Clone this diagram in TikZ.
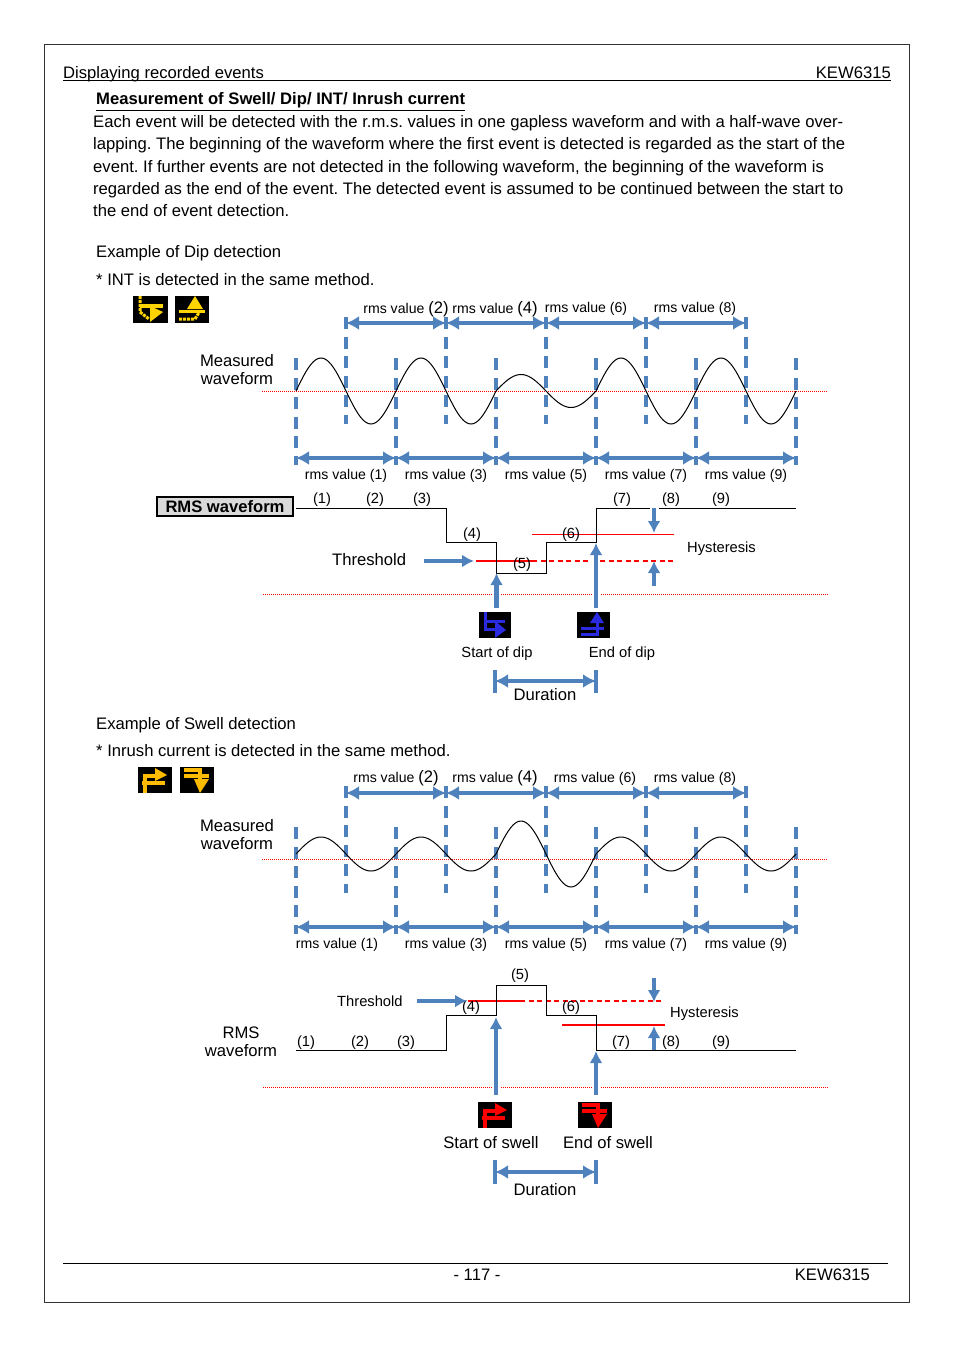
\documentclass[tikz,border=0pt]{standalone}
\usepackage{fontspec}
\setmainfont{Liberation Sans}
\usepackage{xcolor}
\usetikzlibrary{arrows.meta}
\frenchspacing
\definecolor{arrowblue}{HTML}{4F81BD}
\definecolor{iconyellow}{HTML}{FFD400}
\definecolor{iconorange}{HTML}{FFBB00}
\definecolor{iconblue}{HTML}{2A2AE0}
\tikzset{
 bodytxt/.style={anchor=base west,inner sep=0pt,font=\fontsize{16.64}{20}\selectfont},
 bodymid/.style={anchor=base,inner sep=0pt,font=\fontsize{16.64}{20}\selectfont},
 smalltxt/.style={anchor=base,inner sep=0pt,font=\fontsize{14.7}{18}\selectfont},
 rmstxt/.style={anchor=base,inner sep=0pt,font=\fontsize{14.1}{18}\selectfont},
 dimarrow/.style={draw=arrowblue,line width=4pt,{Latex[length=13pt,width=14pt]}-{Latex[length=13pt,width=14pt]}},
 uparrow/.style={draw=arrowblue,line width=4.2pt,-{Latex[length=12pt,width=13pt]}},
 halo/.style={preaction={draw=white,line width=8pt,arrows=-,shorten >=10pt}},
 tickline/.style={draw=arrowblue,line width=3.6pt,dash pattern=on 12pt off 7.5pt},
 barline/.style={draw=arrowblue,line width=3.6pt},
 zeroline/.style={draw=red,line width=.8pt,dash pattern=on 1pt off 1pt},
 wave/.style={draw=black,line width=1pt},
 steps/.style={draw=black,line width=1pt},
 redline/.style={draw=red,line width=1.1pt},
 reddash/.style={draw=red,line width=1.1pt,dash pattern=on 5pt off 3.5pt},
 dipstart/.pic={
  \fill[black] (0,0) rectangle (32,26);
  \draw[#1,line width=3pt] (6,0) -- (6,17) -- (16,17);
  \draw[#1,line width=3pt] (6,9) -- (26,9);
  \fill[#1] (16,9) -- (27,18) -- (16,26) -- cycle;
 },
 dipend/.pic={
  \fill[black] (0,0) rectangle (33,26);
  \fill[#1] (20,0) -- (27,11) -- (13,11) -- cycle;
  \draw[#1,line width=3pt] (4,16) -- (27,16);
  \draw[#1,line width=3pt] (4,22) -- (20,22) -- (20,11);
 },
 swellstart/.pic={
  \fill[black] (0,0) rectangle (34,26);
  \draw[#1,line width=3.4pt] (7,26) -- (7,9) -- (20,9);
  \draw[#1,line width=3.4pt] (4,16) -- (27,16);
  \fill[#1] (17,1) -- (29,8) -- (17,14) -- cycle;
 },
 swellend/.pic={
  \fill[black] (0,0) rectangle (34,26);
  \draw[#1,line width=3.4pt] (4,3) -- (20,3) -- (20,12);
  \draw[#1,line width=3.4pt] (4,9) -- (29,9);
  \fill[#1] (14,12) -- (29,12) -- (20,26) -- cycle;
 },
 dipstartdots/.pic={
  \fill[black] (0,0) rectangle (35,27);
  \draw[iconyellow,line width=3pt,densely dotted] (7,0) -- (7,16) -- (16,23);
  \draw[iconyellow,line width=3.2pt] (7,10) -- (30,10);
  \fill[iconyellow] (17,10) -- (30,16) -- (17,26) -- cycle;
 },
 dipenddots/.pic={
  \fill[black] (0,0) rectangle (34,27);
  \fill[iconyellow] (20,0) -- (28,13) -- (12,13) -- cycle;
  \draw[iconyellow,line width=3pt] (4,15) -- (30,15);
  \draw[iconyellow,line width=3pt,densely dotted] (4,23) -- (20,23) -- (25,15);
 },
}
\begin{document}
\begin{tikzpicture}[x=1pt,y=-1pt]
\useasboundingbox (0,0) rectangle (954,1348);
\coordinate (frameA) at (44.5,44.5);
\coordinate (frameB) at (909.5,1302);
\draw[line width=1pt,black!80] (frameA) rectangle (frameB);
\coordinate (headA) at (63,80);
\coordinate (headB) at (891,80);
\draw[line width=.8pt] (headA)--(headB);
\coordinate (footA) at (63,1263);
\coordinate (footB) at (888,1263);
\draw[line width=.8pt] (footA)--(footB);
\node[bodytxt] at (63,79) (headleft) {Displaying recorded events};
\node[bodytxt,anchor=base east] at (891,79) (headright) {KEW6315};
\node[bodymid] at (477,1280) (pageno) {- 117 -};
\node[bodytxt,anchor=base east] at (870,1280) (footright) {KEW6315};
\node[bodytxt] at (96,105) (title) {\underline{\textbf{Measurement of Swell/ Dip/ INT/ Inrush current}}};
\node[bodytxt] at (93,128) (para1) {Each event will be detected with the r.m.s. values in one gapless waveform and with a half-wave over-};
\node[bodytxt] at (93,150) (para2) {lapping. The beginning of the waveform where the first event is detected is regarded as the start of the};
\node[bodytxt] at (93,173) (para3) {event. If further events are not detected in the following waveform, the beginning of the waveform is};
\node[bodytxt] at (93,195) (para4) {regarded as the end of the event. The detected event is assumed to be continued between the start to};
\node[bodytxt] at (93,217) (para5) {the end of event detection.};
\node[bodytxt] at (96,258) (dipex) {Example of Dip detection};
\node[bodytxt] at (96,285) (dipnote) {* INT is detected in the same method.};
\node[bodytxt] at (96,729) (swellex) {Example of Swell detection};
\node[bodytxt] at (96,756) (swellnote) {* Inrush current is detected in the same method.};
% dip part
\pic at (133,296) {dipstartdots};
\pic at (175,296) {dipenddots};
\node[bodymid] at (237,366) (dipmeasa) {Measured};
\node[bodymid] at (237,384) (dipmeasb) {waveform};
\coordinate (dipzeroA) at (262,391);
\coordinate (dipzeroB) at (828,391);
\draw[zeroline] (dipzeroA)--(dipzeroB);
\foreach \i/\x in {1/346,2/446,3/546,4/646,5/746}{
 \coordinate (dta\i) at (\x,317);
 \coordinate (dtb\i) at (\x,424);
 \draw[tickline] (dta\i)--(dtb\i);
 \coordinate (sta\i) at (\x,786);
 \coordinate (stb\i) at (\x,893);
 \draw[tickline] (sta\i)--(stb\i);
 \coordinate (dup\i) at (\x,323);
 \coordinate (sup\i) at (\x,793);
}
\foreach \i/\x in {1/296,2/396,3/496,4/596,5/696,6/796}{
 \coordinate (dba\i) at (\x,358);
 \coordinate (dbb\i) at (\x,465);
 \draw[tickline] (dba\i)--(dbb\i);
 \coordinate (sba\i) at (\x,827);
 \coordinate (sbb\i) at (\x,934);
 \draw[tickline] (sba\i)--(sbb\i);
 \coordinate (ddn\i) at (\x,458);
 \coordinate (sdn\i) at (\x,927);
}
\foreach \a/\b in {1/2,2/3,3/4,4/5}{
 \draw[dimarrow] (dup\a)--(dup\b);
 \draw[dimarrow] (sup\a)--(sup\b);
}
\foreach \a/\b in {1/2,2/3,3/4,4/5,5/6}{
 \draw[dimarrow] (ddn\a)--(ddn\b);
 \draw[dimarrow] (sdn\a)--(sdn\b);
}
\draw[wave] plot[domain=296:496,samples=81] (\x,{391-33*sin((\x-296)*3.6)});
\draw[wave] plot[domain=496:596,samples=41] (\x,{391-16.5*sin((\x-496)*3.6)});
\draw[wave] plot[domain=596:796,samples=81] (\x,{391-33*sin((\x-596)*3.6)});
\node[rmstxt] at (406,313) (dipval2) {rms value {\fontsize{16.6}{20}\selectfont (2)}};
\node[rmstxt] at (495,313) (dipval4) {rms value {\fontsize{16.6}{20}\selectfont (4)}};
\node[rmstxt] at (586,312) (dipval6) {rms value (6)};
\node[rmstxt] at (695,312) (dipval8) {rms value (8)};
\node[rmstxt] at (346,479) (dipval1) {rms value (1)};
\node[rmstxt] at (446,479) (dipval3) {rms value (3)};
\node[rmstxt] at (546,479) (dipval5) {rms value (5)};
\node[rmstxt] at (646,479) (dipval7) {rms value (7)};
\node[rmstxt] at (746,479) (dipval9) {rms value (9)};
\node[draw,line width=1.2pt,fill=black!15,inner sep=0pt,minimum width=136pt,minimum height=19pt,font=\fontsize{16.6}{20}\selectfont\bfseries] at (225,506.5) (diprms) {RMS waveform};
\coordinate (dipstepA) at (296,508);
\coordinate (dipstepB) at (650,508);
\coordinate (dipstepC) at (659,508);
\coordinate (dipstepD) at (796,508);
\coordinate (diphystA) at (532,534.5);
\coordinate (diphystB) at (674,534.5);
\draw[redline] (diphystA)--(diphystB);
\coordinate (dipthrA) at (476,561);
\coordinate (dipthrB) at (532,561);
\coordinate (dipthrC) at (675,561);
\draw[redline] (dipthrA)--(dipthrB);
\draw[reddash] (dipthrB)--(dipthrC);
\draw[steps] (dipstepA)-|(446.5,542)-|(496.5,573)-|(546.5,542)-|(596.5,508)--(dipstepB);
\draw[steps] (dipstepC)--(dipstepD);
\foreach \x/\y/\n/\t in {322/503/a/1,375/503/b/2,422/503/c/3,472/538/d/4,522/568/e/5,571/538/f/6,622/503/g/7,671/503/h/8,721/503/i/9}{
 \node[smalltxt] at (\x,\y) (dipnum\n) {(\t)};
}
\node[bodytxt] at (332,565) (dipthr) {Threshold};
\node[smalltxt,anchor=base west] at (687,552) (diphys) {Hysteresis};
\coordinate (dipthrarrow) at (424,561);
\coordinate (dipthrtip) at (474,561);
\draw[uparrow] (dipthrarrow)--(dipthrtip);
\coordinate (diphysa) at (654,508);
\coordinate (diphysb) at (654,533);
\draw[uparrow] (diphysa)--(diphysb);
\coordinate (diphysc) at (654,586);
\coordinate (diphysd) at (654,561);
\draw[uparrow] (diphysc)--(diphysd);
\coordinate (dipbaseA) at (263,594);
\coordinate (dipbaseB) at (829,594);
\draw[zeroline] (dipbaseA)--(dipbaseB);
\coordinate (dipsa) at (496.5,608);
\coordinate (dipsb) at (496.5,573);
\draw[uparrow,halo] (dipsa)--(dipsb);
\coordinate (dipea) at (596,608);
\coordinate (dipeb) at (596,543);
\draw[uparrow,halo] (dipea)--(dipeb);
\pic at (479,612) {dipstart=iconblue};
\pic at (577,612) {dipend=iconblue};
\node[smalltxt] at (497,657) (dipstartlab) {Start of dip};
\node[smalltxt] at (622,657) (dipendlab) {End of dip};
\coordinate (dipbarA) at (495,670);
\coordinate (dipbarB) at (495,693);
\coordinate (dipbarC) at (596,670);
\coordinate (dipbarD) at (596,693);
\draw[barline] (dipbarA)--(dipbarB);
\draw[barline] (dipbarC)--(dipbarD);
\coordinate (dipdurA) at (495,681);
\coordinate (dipdurB) at (596,681);
\draw[dimarrow] (dipdurA)--(dipdurB);
\node[bodymid] at (545,700) (dipdur) {Duration};
% swell part
\pic at (138,767) {swellstart=iconorange};
\pic at (180,767) {swellend=iconorange};
\node[bodymid] at (237,831) (swmeasa) {Measured};
\node[bodymid] at (237,849) (swmeasb) {waveform};
\coordinate (swzeroA) at (262,859);
\coordinate (swzeroB) at (828,859);
\draw[zeroline] (swzeroA)--(swzeroB);
\draw[wave] plot[domain=296:496,samples=81] (\x,{854-17*sin((\x-296)*3.6)});
\draw[wave] plot[domain=496:596,samples=41] (\x,{854-33*sin((\x-496)*3.6)});
\draw[wave] plot[domain=596:796,samples=81] (\x,{854-17*sin((\x-596)*3.6)});
\node[rmstxt] at (396,782) (swval2) {rms value {\fontsize{16.6}{20}\selectfont (2)}};
\node[rmstxt] at (495,782) (swval4) {rms value {\fontsize{16.6}{20}\selectfont (4)}};
\node[rmstxt] at (595,782) (swval6) {rms value (6)};
\node[rmstxt] at (695,782) (swval8) {rms value (8)};
\node[rmstxt] at (337,948) (swval1) {rms value (1)};
\node[rmstxt] at (446,948) (swval3) {rms value (3)};
\node[rmstxt] at (546,948) (swval5) {rms value (5)};
\node[rmstxt] at (646,948) (swval7) {rms value (7)};
\node[rmstxt] at (746,948) (swval9) {rms value (9)};
\node[bodymid] at (241,1038) (swrmsa) {RMS};
\node[bodymid] at (241,1056) (swrmsb) {waveform};
\coordinate (swthrA) at (468,1001);
\coordinate (swthrB) at (520,1001);
\coordinate (swthrC) at (664,1001);
\draw[redline] (swthrA)--(swthrB);
\draw[reddash] (swthrB)--(swthrC);
\coordinate (swhystA) at (562,1025);
\coordinate (swhystB) at (665,1025);
\draw[redline] (swhystA)--(swhystB);
\coordinate (swstepA) at (296,1050);
\coordinate (swstepB) at (796,1050);
\draw[steps] (swstepA)-|(446.5,1015)-|(496.5,985)-|(546.5,1015)-|(596.5,1050)--(swstepB);
\foreach \x/\y/\n/\t in {306/1046/a/1,360/1046/b/2,406/1046/c/3,471/1011/d/4,520/979/e/5,571/1011/f/6,621/1046/g/7,671/1046/h/8,721/1046/i/9}{
 \node[smalltxt] at (\x,\y) (swnum\n) {(\t)};
}
\node[smalltxt,anchor=base west] at (337,1006) (swthr) {Threshold};
\node[smalltxt,anchor=base west] at (670,1017) (swhys) {Hysteresis};
\coordinate (swthrarrow) at (417,1001);
\coordinate (swthrtip) at (467,1001);
\draw[uparrow] (swthrarrow)--(swthrtip);
\coordinate (swhysa) at (654,978);
\coordinate (swhysb) at (654,1002);
\draw[uparrow] (swhysa)--(swhysb);
\coordinate (swhysc) at (654,1050);
\coordinate (swhysd) at (654,1026);
\draw[uparrow] (swhysc)--(swhysd);
\coordinate (swbaseA) at (263,1087);
\coordinate (swbaseB) at (829,1087);
\draw[zeroline] (swbaseA)--(swbaseB);
\coordinate (swsa) at (496,1095);
\coordinate (swsb) at (496,1017);
\draw[uparrow,halo] (swsa)--(swsb);
\coordinate (swea) at (596,1095);
\coordinate (sweb) at (596,1051);
\draw[uparrow,halo] (swea)--(sweb);
\pic at (478,1102) {swellstart=red};
\pic at (578,1102) {swellend=red};
\node[bodymid] at (491,1148) (swstartlab) {Start of swell};
\node[bodymid] at (608,1148) (swendlab) {End of swell};
\coordinate (swbarA) at (495,1160);
\coordinate (swbarB) at (495,1184);
\coordinate (swbarC) at (596,1160);
\coordinate (swbarD) at (596,1184);
\draw[barline] (swbarA)--(swbarB);
\draw[barline] (swbarC)--(swbarD);
\coordinate (swdurA) at (495,1172);
\coordinate (swdurB) at (596,1172);
\draw[dimarrow] (swdurA)--(swdurB);
\node[bodymid] at (545,1195) (swdur) {Duration};
\end{tikzpicture}
\end{document}
